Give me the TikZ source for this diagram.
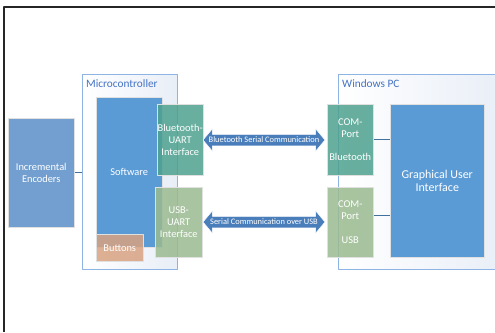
\documentclass[tikz,border=0pt]{standalone}
\usepackage{fontspec}
\setmainfont{Carlito}
\usetikzlibrary{shapes.arrows}
\definecolor{Cline}{RGB}{141,180,226}
\definecolor{Cfill}{RGB}{232,238,247}
\definecolor{Ctext}{RGB}{68,114,196}
\definecolor{SWfill}{RGB}{91,155,213}
\definecolor{ENfill}{RGB}{114,159,207}
\definecolor{BTfill}{RGB}{77,161,143}
\definecolor{USfill}{RGB}{154,186,143}
\definecolor{BNfill}{RGB}{216,162,129}
\definecolor{ARfill}{RGB}{74,126,187}
\definecolor{Lcol}{RGB}{65,113,156}

\begin{document}
\begin{tikzpicture}[x=1pt,y=-1pt,line join=round,
  group/.style={anchor=north west,draw=Cline,line width=0.8pt,left color=white,right color=Cfill,minimum height=195pt},
  grouplabel/.style={anchor=west,inner sep=0pt,text=Ctext,font=\fontsize{11.3}{13}\selectfont},
  block/.style={anchor=north west,draw=black!12,line width=0.5pt,inner sep=0pt,align=center,text=white,font=\fontsize{10.4}{11.8}\selectfont},
  seethru/.style={block,fill opacity=0.85,text opacity=1},
  wire/.style={draw=Lcol,line width=1.2pt},
  comm/.style={double arrow,fill=ARfill,draw=white,line width=0.5pt,text=white,double arrow head extend=5.5pt,double arrow tip angle=100,inner xsep=-5pt,inner ysep=1pt,text height=6.5pt,text depth=2.5pt,minimum height=122pt,font=\fontsize{8.4}{10}\selectfont}]
\path[use as bounding box] (0,0) rectangle (495,332);
% frame
\draw[line width=2pt,black!85] (495,7) -- (4,7) -- (4,332);
% containers
\node[group,minimum width=95pt] (mcu) at (82,74) {};
\node[group,minimum width=170pt] (pc) at (338,74) {};
\node[grouplabel] (mcutitle) at (86,84) {Microcontroller};
\node[grouplabel] (pctitle) at (342,84) {Windows PC};
% blocks
\node[block,fill=ENfill,minimum width=66pt,minimum height=109pt] (enc) at (8,118) {Incremental\\Encoders};
\node[block,fill=SWfill,minimum width=66pt,minimum height=150pt] (sw) at (96,97) {Software};
\node[seethru,fill=BNfill,minimum width=47pt,minimum height=27pt] (btn) at (96,234) {Buttons};
\node[seethru,fill=BTfill,minimum width=46pt,minimum height=71pt] (btuart) at (157,104) {Bluetooth-\\UART\\Interface};
\node[seethru,fill=USfill,minimum width=47pt,minimum height=70pt] (usuart) at (155,187) {USB-\\UART\\Interface};
\node[seethru,fill=BTfill,minimum width=46pt,minimum height=71pt] (combt) at (327,104) {COM-\\Port\\[11.8pt]Bluetooth};
\node[seethru,fill=USfill,minimum width=46pt,minimum height=70pt] (comus) at (327,187) {COM-\\Port\\[11.8pt]USB};
\node[block,fill=SWfill,minimum width=94pt,minimum height=153pt,font=\fontsize{12}{13.5}\selectfont] (gui) at (390,104) {Graphical User\\Interface};
% wires
\draw[wire] (enc.east) -- (enc.east -| mcu.west);
\draw[wire] (combt.east) -- (combt.east -| gui.west);
\draw[wire] ([yshift=7pt]comus.east) -- ([yshift=7pt]comus.east -| gui.west);
% links
\node[comm] (btlink) at (264,140) {Bluetooth Serial Communication};
\node[comm] (uslink) at (264,222) {Serial Communication over USB};
\end{tikzpicture}
\end{document}
